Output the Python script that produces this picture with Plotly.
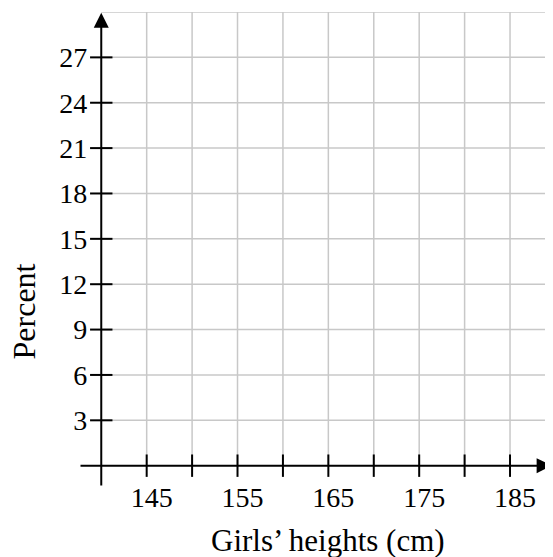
import plotly.graph_objects as go

# ---- data / axis values ----
x_grid = [145, 150, 155, 160, 165, 170, 175, 180, 185]
x_tick_labels = ["145", "", "155", "", "165", "", "175", "", "185"]
y_grid = [3, 6, 9, 12, 15, 18, 21, 24, 27, 30]
y_ticks = [3, 6, 9, 12, 15, 18, 21, 24, 27]
y_tick_labels = ["3", "6", "9", "12", "15", "18", "21", "24", "27"]
x_origin = 140
y_origin = 0
x_min, x_max = 137.55, 189.73
y_min, y_max = -1.41, 30

x_title = "Girls’ heights (cm)"
y_title = "Percent"

FONT = "Liberation Serif, Times New Roman, serif"
GRID = "#c8c8c8"

fig = go.Figure()

# vertical grid lines
vx, vy = [], []
for xv in x_grid:
    vx += [xv, xv, None]
    vy += [y_origin, y_max, None]
fig.add_trace(go.Scatter(x=vx, y=vy, mode="lines",
                         line=dict(color=GRID, width=1.5),
                         hoverinfo="skip", showlegend=False))
# horizontal grid lines
hx, hy = [], []
for yv in y_grid:
    hx += [x_origin, x_max, None]
    hy += [yv, yv, None]
fig.add_trace(go.Scatter(x=hx, y=hy, mode="lines",
                         line=dict(color=GRID, width=1.5),
                         hoverinfo="skip", showlegend=False))

# tick marks crossing the axes
fig.add_trace(go.Scatter(x=x_grid, y=[y_origin] * len(x_grid), mode="markers",
                         marker=dict(symbol="line-ns", size=16,
                                     line=dict(color="black", width=2)),
                         hoverinfo="skip", showlegend=False, cliponaxis=False))
fig.add_trace(go.Scatter(x=[x_origin] * len(y_ticks), y=y_ticks, mode="markers",
                         marker=dict(symbol="line-ew", size=16,
                                     line=dict(color="black", width=2)),
                         hoverinfo="skip", showlegend=False, cliponaxis=False))

# axis lines with arrows
x_tip = x_max - 0.15
y_tip = y_max - 0.05
fig.add_annotation(x=x_origin, y=y_tip, ax=x_origin, ay=y_min,
                   xref="x", yref="y", axref="x", ayref="y",
                   showarrow=True, arrowhead=2, arrowsize=1.5, arrowwidth=2,
                   arrowcolor="black", text="")
fig.add_annotation(x=x_tip, y=y_origin, ax=x_min, ay=y_origin,
                   xref="x", yref="y", axref="x", ayref="y",
                   showarrow=True, arrowhead=2, arrowsize=1.5, arrowwidth=2,
                   arrowcolor="black", text="")

# axis titles
fig.add_annotation(x=165, y=-0.112, xref="x", yref="paper",
                   text=x_title, showarrow=False, borderpad=0,
                   font=dict(family=FONT, size=31, color="black"),
                   xanchor="center", yanchor="middle")
fig.add_annotation(x=-0.116, y=10.2, xref="paper", yref="y",
                   text=y_title, showarrow=False, textangle=-90, borderpad=0,
                   font=dict(family=FONT, size=32, color="black"),
                   xanchor="center", yanchor="middle")

fig.update_layout(
    width=553, height=557,
    margin=dict(l=71, r=8, t=4, b=78),
    paper_bgcolor="white", plot_bgcolor="white",
    showlegend=False,
    xaxis=dict(range=[x_min, x_max], showgrid=False, zeroline=False,
               showline=False, tickvals=x_grid, ticktext=x_tick_labels,
               ticks="", anchor="free",
               position=(y_origin - y_min) / (y_max - y_min),
               tickfont=dict(family=FONT, size=28, color="black"),
               ticklabelstandoff=12, ticklabelshift=5, fixedrange=True),
    yaxis=dict(range=[y_min, y_max], showgrid=False, zeroline=False,
               showline=False, tickvals=y_ticks, ticktext=y_tick_labels,
               ticks="", anchor="free",
               position=(x_origin - x_min) / (x_max - x_min),
               tickfont=dict(family=FONT, size=28, color="black"),
               ticklabelstandoff=14, fixedrange=True),
)

fig.write_html("out.html")
